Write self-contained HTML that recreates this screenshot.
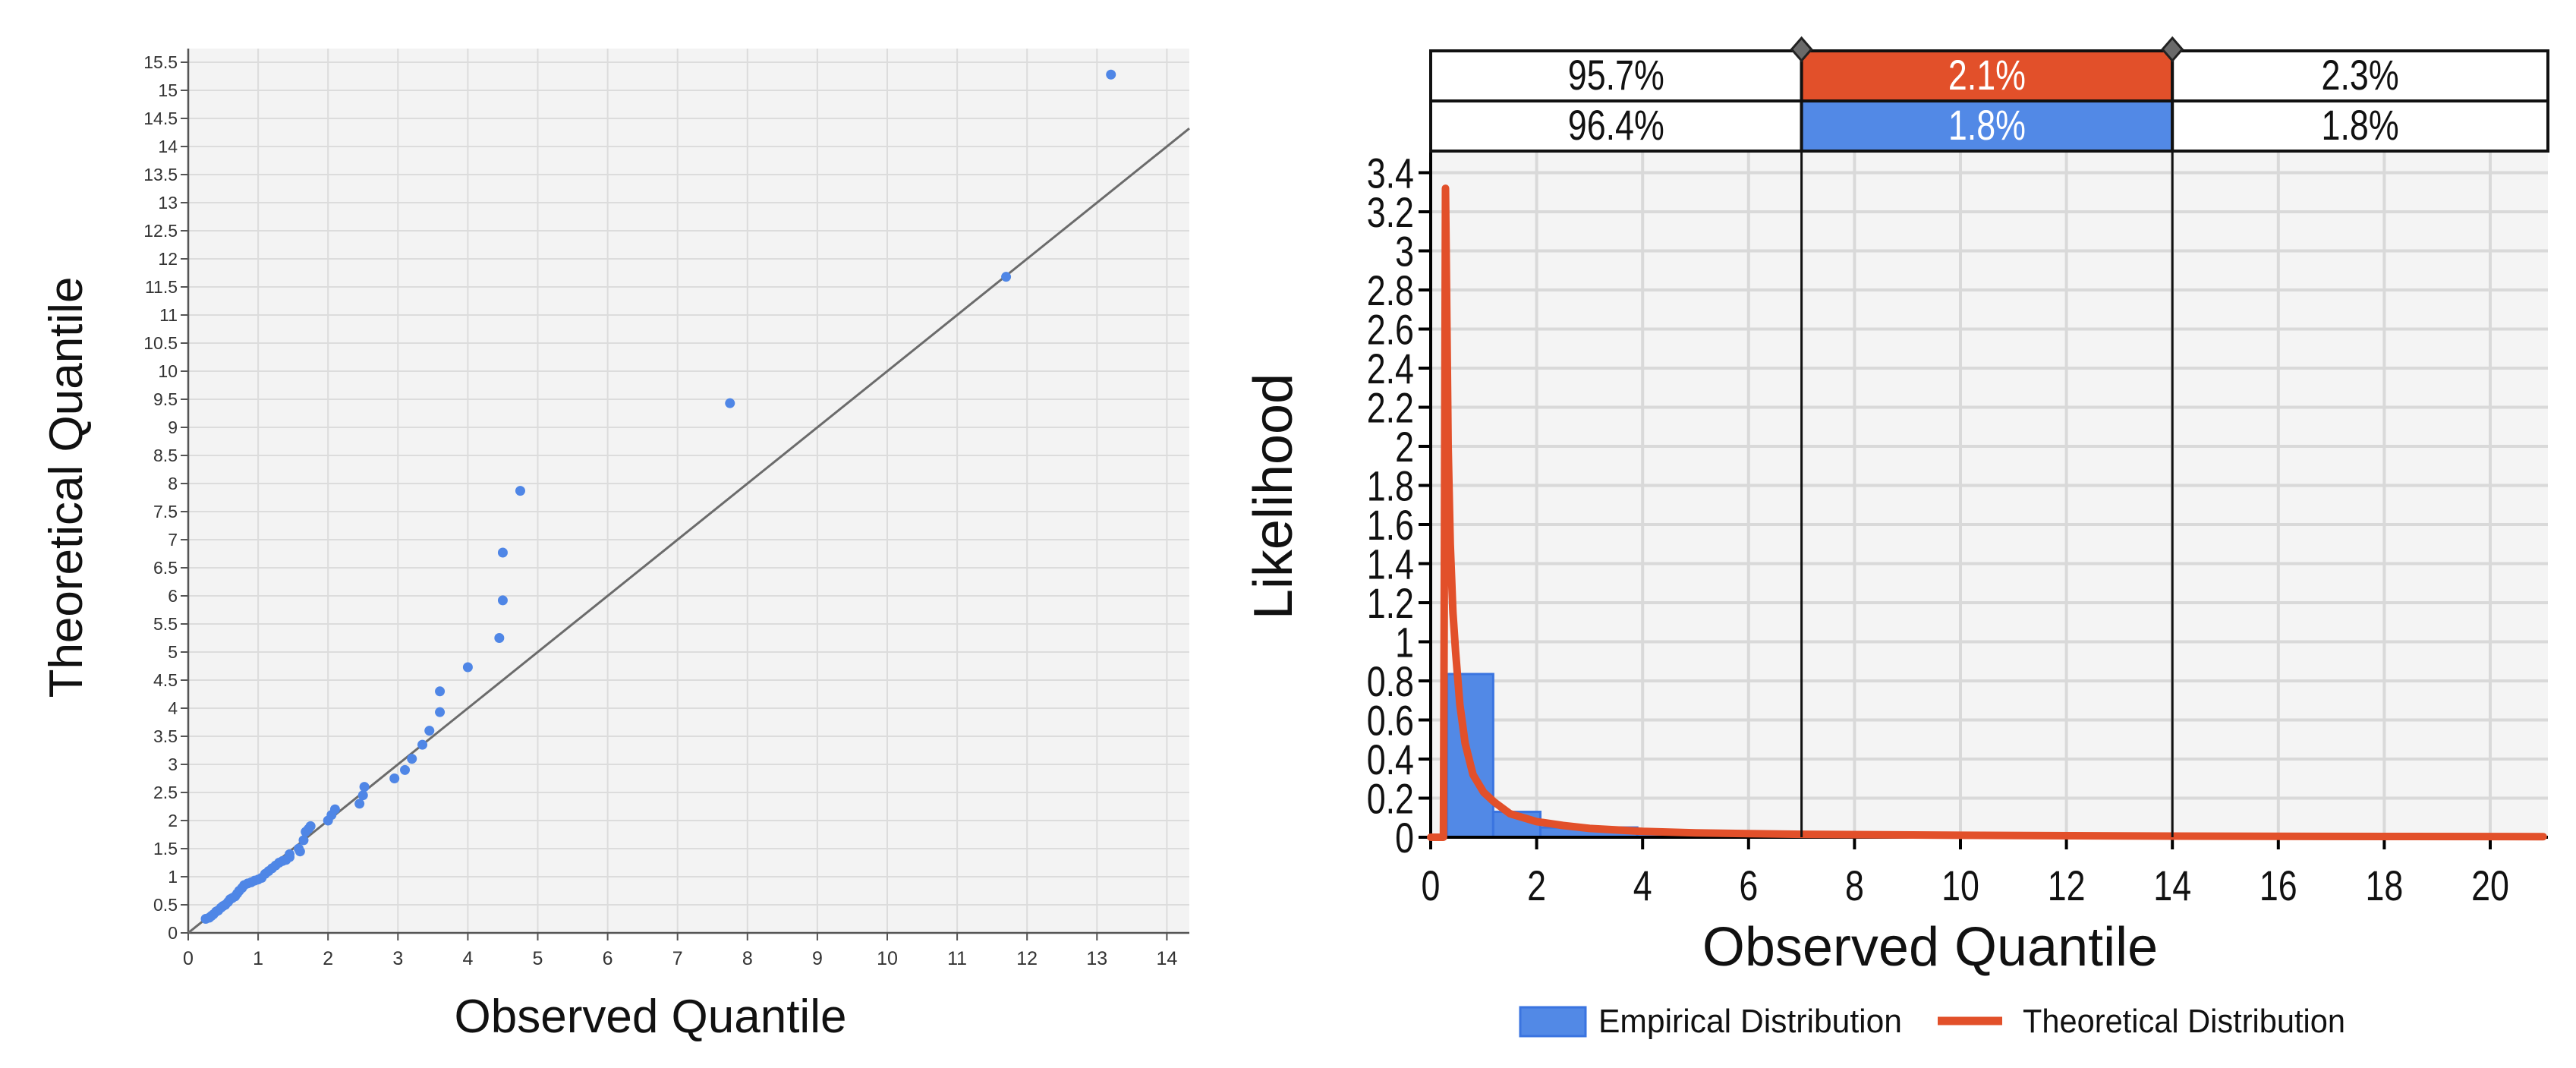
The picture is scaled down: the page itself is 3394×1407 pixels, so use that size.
<!DOCTYPE html>
<html><head><meta charset="utf-8"><style>
html,body{margin:0;padding:0;background:#fff;}
svg{display:block;font-family:"Liberation Sans",sans-serif;}
</style></head><body>
<svg id="svg" width="3394" height="1407" viewBox="0 0 3394 1407" xmlns="http://www.w3.org/2000/svg">
<g id="left"></g>
<g id="right"></g>
</svg>
<script>
// ---- QQ plot data ----
const qqObserved = [0.25,0.3,0.33,0.36,0.4,0.43,0.47,0.5,0.53,0.57,0.6,0.63,0.67,0.7,0.73,0.77,0.8,0.85,0.9,0.95,1.0,1.05,1.1,1.15,1.2,1.25,1.3,1.35,1.4,1.45,1.45,1.58,1.6,1.65,1.68,1.72,1.75,2.0,2.05,2.1,2.45,2.5,2.52,2.95,3.1,3.2,3.35,3.45,3.6,3.6,4.0,4.45,4.5,4.5,4.75,7.75,11.7,13.2];
const qqTheoretical = [0.25,0.27,0.3,0.33,0.38,0.4,0.45,0.48,0.5,0.55,0.6,0.62,0.65,0.7,0.75,0.8,0.85,0.88,0.9,0.93,0.95,0.98,1.05,1.1,1.15,1.2,1.25,1.28,1.3,1.35,1.4,1.5,1.45,1.65,1.8,1.85,1.9,2.0,2.1,2.2,2.3,2.45,2.6,2.75,2.9,3.1,3.35,3.6,3.93,4.3,4.73,5.25,5.92,6.77,7.87,9.43,11.68,15.28];
const qqXTicks = [0,1,2,3,4,5,6,7,8,9,10,11,12,13,14];
const qqYTicks = [0,0.5,1,1.5,2,2.5,3,3.5,4,4.5,5,5.5,6,6.5,7,7.5,8,8.5,9,9.5,10,10.5,11,11.5,12,12.5,13,13.5,14,14.5,15,15.5];
// ---- distribution plot data ----
const binStarts = [0.31,1.18,2.07,3.9];
const binEnds = [1.18,2.07,3.9,4.8];
const binHeights = [0.835,0.13,0.05,0.025];
const curveX = [0,0.24,0.26,0.28,0.3,0.33,0.37,0.42,0.47,0.55,0.65,0.8,1.0,1.2,1.5,2.0,2.5,3.0,4.0,5.0,7.0,10,14,18,21];
const curveY = [0,0,1.5,3.32,2.8,2.0,1.5,1.15,0.95,0.68,0.48,0.32,0.23,0.18,0.12,0.08,0.06,0.045,0.03,0.022,0.015,0.01,0.006,0.004,0.003];
const distXTicks = [0,2,4,6,8,10,12,14,16,18,20];
const distYTicks = [0,0.2,0.4,0.6,0.8,1,1.2,1.4,1.6,1.8,2,2.2,2.4,2.6,2.8,3,3.2,3.4];
const tableTop = ["95.7%","2.1%","2.3%"];
const tableBottom = ["96.4%","1.8%","1.8%"];
const cutoffs = [7,14];

const NS="http://www.w3.org/2000/svg";
function mk(parent,tag,attrs,text){const e=document.createElementNS(NS,tag);for(const k in attrs)e.setAttribute(k,attrs[k]);if(text!==undefined)e.textContent=text;parent.appendChild(e);return e;}
function narrow(el,f){const w=el.getComputedTextLength();el.setAttribute('textLength',(w*f).toFixed(1));el.setAttribute('lengthAdjust','spacingAndGlyphs');}

// ===== LEFT =====
(function(){
const g=document.getElementById('left');
const X0=248,Y0=1229,ux=92.1,uy=74.0;
const xs=v=>X0+v*ux, ys=v=>Y0-v*uy;
const right=1567, top=64;
const bg=mk(g,'rect',{x:X0,y:top,width:right-X0,height:Y0-top,fill:'#f3f3f3'});


qqXTicks.forEach(t=>{const x=xs(t);
 const l=mk(g,'line',{x1:x,x2:x,y1:top,y2:Y0+10,stroke:'#dcdcdc','stroke-width':2});
 
 
 mk(g,'line',{x1:x,x2:x,y1:Y0,y2:Y0+10,stroke:'#555','stroke-width':2});
 const tx=mk(g,'text',{x:x,y:Y0+42,'font-size':25,'text-anchor':'middle',fill:'#333'},String(t));
 
 
});
qqYTicks.forEach(t=>{const y=ys(t);
 const l=mk(g,'line',{x1:X0-10,x2:right,y1:y,y2:y,stroke:'#dcdcdc','stroke-width':2});
 
 
 mk(g,'line',{x1:X0-10,x2:X0,y1:y,y2:y,stroke:'#555','stroke-width':2});
 const tx=mk(g,'text',{x:X0-14,y:y+8,'font-size':23,'text-anchor':'end',fill:'#333'},String(t));
 
 
});
mk(g,'line',{x1:X0,x2:X0,y1:top,y2:Y0,stroke:'#555','stroke-width':2.5});
mk(g,'line',{x1:X0,x2:right,y1:Y0,y2:Y0,stroke:'#555','stroke-width':2.5});
const maxv=(right-X0)/ux;
const ref=mk(g,'line',{x1:xs(0),y1:ys(0),x2:xs(maxv),y2:ys(maxv),stroke:'#6b6b6b','stroke-width':3});


qqObserved.forEach((v,i)=>{
 const c=mk(g,'circle',{cx:xs(v),cy:ys(qqTheoretical[i]),r:6.5,fill:'#4f86e6'});
 
 
});
const xt=mk(g,'text',{x:857,y:1360,'font-size':62,'text-anchor':'middle',fill:'#111'},'Observed Quantile');


const yt=mk(g,'text',{x:0,y:0,'font-size':62,'text-anchor':'middle',fill:'#111',transform:'translate(108,642) rotate(-90)'},'Theoretical Quantile');


})();

// ===== RIGHT =====
(function(){
const g=document.getElementById('right');
const X0=1885,Y0=1103,ux=69.8,uy=257.5;
const xs=v=>X0+v*ux, ys=v=>Y0-v*uy;
const right=3357, top=199;
const bg=mk(g,'rect',{x:X0,y:top,width:right-X0,height:Y0-top,fill:'#f4f4f4'});


distXTicks.forEach(t=>{const x=xs(t);
 const l=mk(g,'line',{x1:x,x2:x,y1:top,y2:Y0,stroke:'#d9d9d9','stroke-width':4});
 
 
 mk(g,'line',{x1:x,x2:x,y1:Y0,y2:Y0+16,stroke:'#000','stroke-width':4});
 const tx=mk(g,'text',{x:x,y:Y0+83,'font-size':56,'text-anchor':'middle',fill:'#111'},String(t));
 
 
 narrow(tx,0.8);
});
distYTicks.forEach(t=>{const y=ys(t);
 const l=mk(g,'line',{x1:X0,x2:right,y1:y,y2:y,stroke:'#d9d9d9','stroke-width':4});
 
 
 mk(g,'line',{x1:X0-16,x2:X0,y1:y,y2:y,stroke:'#000','stroke-width':4});
 const tx=mk(g,'text',{x:X0-22,y:y+20,'font-size':56,'text-anchor':'end',fill:'#111'},String(t));
 
 
 narrow(tx,0.8);
});
binStarts.forEach((s,i)=>{
 const r=mk(g,'rect',{x:xs(s),y:ys(binHeights[i]),width:xs(binEnds[i])-xs(s),height:Y0-ys(binHeights[i]),fill:'#5289e6',stroke:'#3a74e0','stroke-width':3});
 
 
});
mk(g,'line',{x1:X0,x2:X0,y1:top,y2:Y0+16,stroke:'#000','stroke-width':4});
mk(g,'line',{x1:X0-16,x2:right,y1:Y0,y2:Y0,stroke:'#000','stroke-width':4});
let d='';curveX.forEach((v,i)=>{d+=(i?'L':'M')+xs(v).toFixed(1)+','+ys(curveY[i]).toFixed(1);});
const p=mk(g,'path',{d:d,fill:'none',stroke:'#e2502a','stroke-width':10,'stroke-linejoin':'round','stroke-linecap':'round'});


cutoffs.forEach(c=>{
 const l=mk(g,'line',{x1:xs(c),x2:xs(c),y1:67,y2:Y0,stroke:'#111','stroke-width':3});
 
 
});
const bounds=[0,cutoffs[0],cutoffs[1],(right-X0)/ux];
const rows=[[tableTop,67,133,'#e2502a'],[tableBottom,133,199,'#5289e6']];
rows.forEach(rw=>{
 for(let i=0;i<3;i++){
  const x1=xs(bounds[i]),x2=i===2?right:xs(bounds[i+1]);
  const c=mk(g,'rect',{x:x1,y:rw[1],width:x2-x1,height:rw[2]-rw[1],fill:i===1?rw[3]:'#fff',stroke:'#111','stroke-width':4});
  
  
  const t=mk(g,'text',{x:(x1+x2)/2,y:rw[1]+51,'font-size':56,'text-anchor':'middle',fill:i===1?'#fff':'#111'},rw[0][i]);
  
  
  narrow(t,0.8);
 }
});
cutoffs.forEach(c=>{
 const x=xs(c);
 const dm=mk(g,'polygon',{points:`${x},50 ${x+13},65 ${x},80 ${x-13},65`,fill:'#6a6a6a',stroke:'#222','stroke-width':3});
 
 
});
const xt=mk(g,'text',{x:2543,y:1272,'font-size':72,'text-anchor':'middle',fill:'#111'},'Observed Quantile');


const yt=mk(g,'text',{x:0,y:0,'font-size':72,'text-anchor':'middle',fill:'#111',transform:'translate(1702,654) rotate(-90)'},'Likelihood');


const lr=mk(g,'rect',{x:2003,y:1327,width:86,height:38,fill:'#5289e6',stroke:'#3a74e0','stroke-width':3});


const lt=mk(g,'text',{x:2106,y:1360,'font-size':44,fill:'#111',textLength:400,lengthAdjust:'spacingAndGlyphs'},'Empirical Distribution');


const ll=mk(g,'line',{x1:2553,x2:2638,y1:1345,y2:1345,stroke:'#e2502a','stroke-width':11});


const lt2=mk(g,'text',{x:2665,y:1360,'font-size':44,fill:'#111',textLength:425,lengthAdjust:'spacingAndGlyphs'},'Theoretical Distribution');


})();
</script>
</body></html>
